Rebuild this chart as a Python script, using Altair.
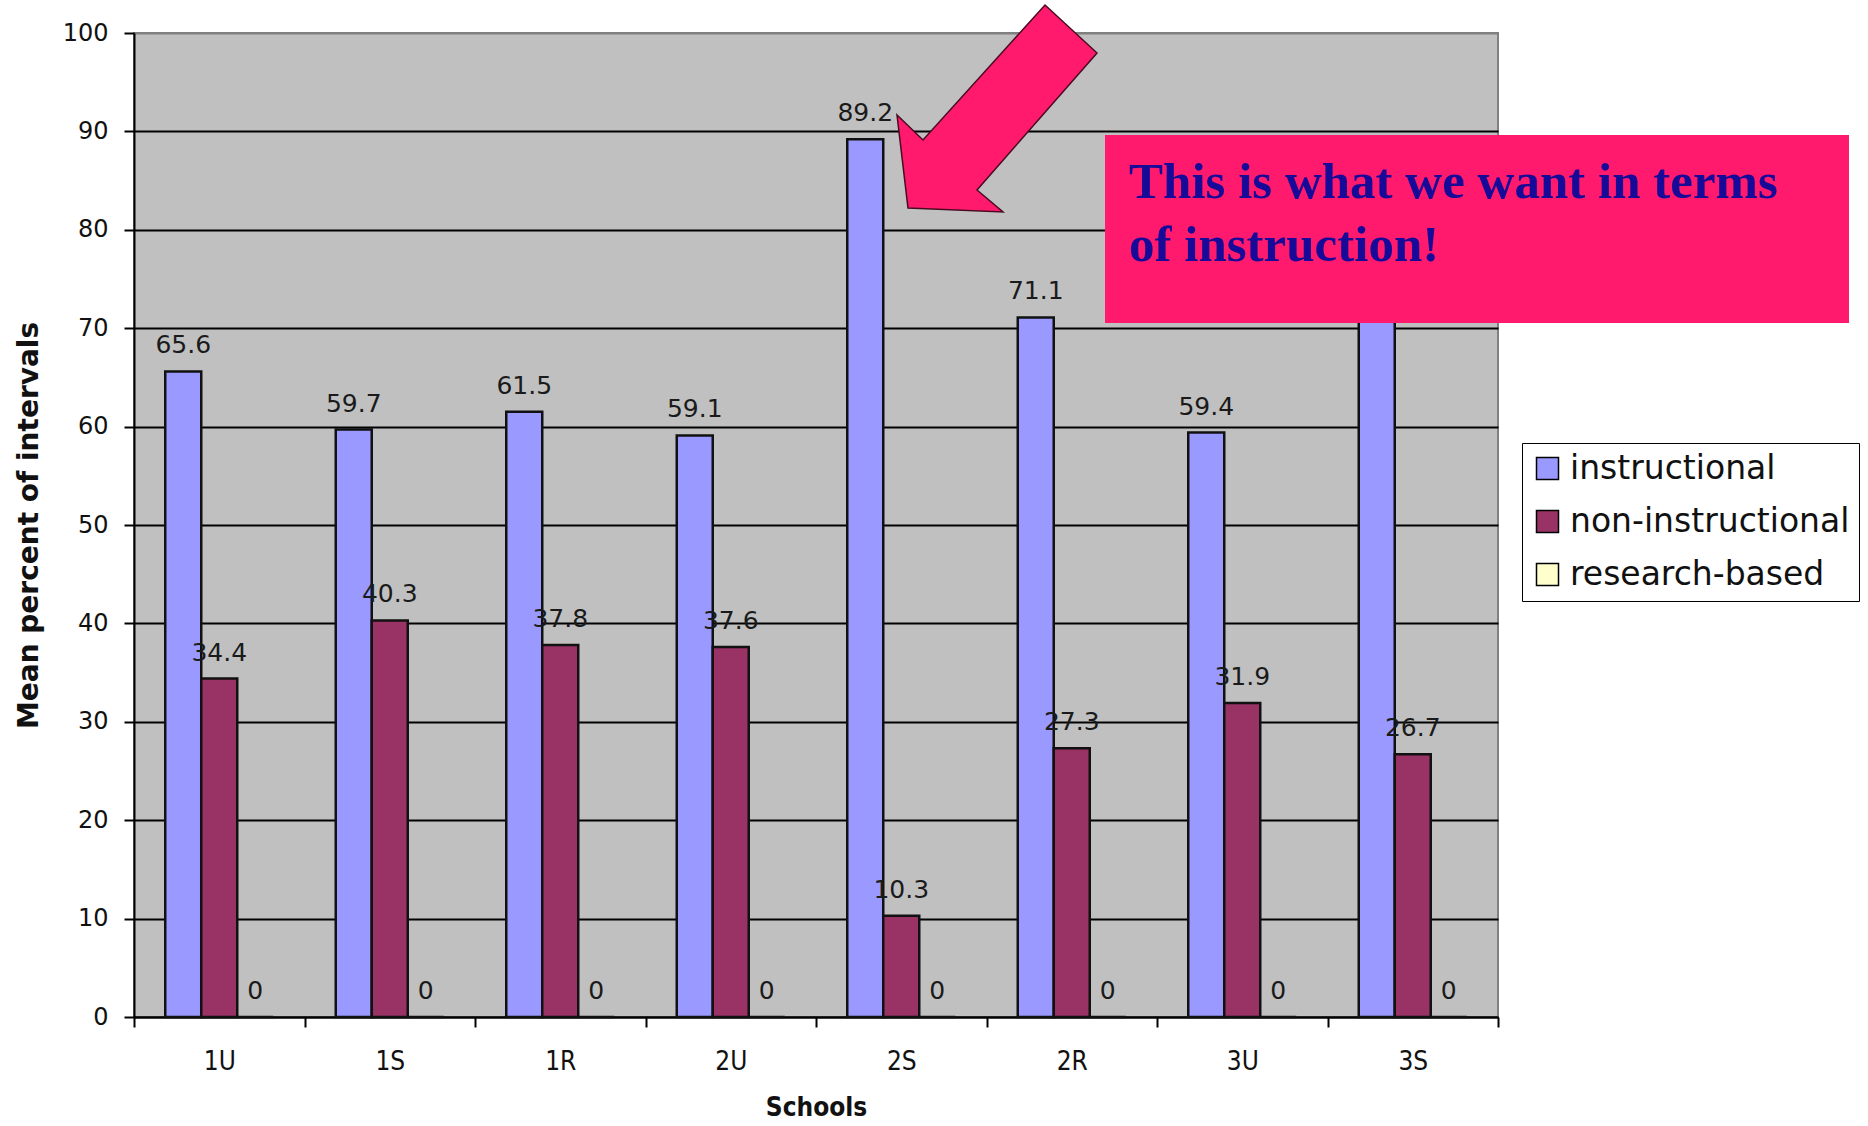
import altair as alt
import pandas as pd

# ---------------- data ----------------
schools = ["1U", "1S", "1R", "2U", "2S", "2R", "3U", "3S"]
series = ["instructional", "non-instructional", "research-based"]
instructional = [65.6, 59.7, 61.5, 59.1, 89.2, 71.1, 59.4, 73.3]
non_instructional = [34.4, 40.3, 37.8, 37.6, 10.3, 27.3, 31.9, 26.7]
research_based = [0, 0, 0, 0, 0, 0, 0, 0]
y_ticks = [0, 10, 20, 30, 40, 50, 60, 70, 80, 90, 100]
colors = ["#9999ff", "#993366", "#ffffcc"]
note_line1 = "This is what we want in terms"
note_line2 = "of instruction!"

rows = []
for s, vals in zip(series, [instructional, non_instructional, research_based]):
    for sc, v in zip(schools, vals):
        rows.append({"school": sc, "series": s, "value": v, "label": f"{v:g}"})
df = pd.DataFrame(rows)
one = pd.DataFrame({"k": [0]})

# ---------------- layout constants (pixels) ----------------
PLOT_W, PLOT_H = 1364, 984
PAD = {"left": 134, "top": 33, "right": 370, "bottom": 109}
PINK = "#ff1a6e"
ARROW_PATH = ("M 0.4638 -1 L 0.9662 -0.5362 L -0.1932 0.7874 L 0.058 1 "
              "L -0.8599 0.9614 L -0.9662 0.0628 L -0.715 0.3043 Z")

narrow = "Liberation Sans Narrow, DejaVu Sans Condensed, DejaVu Sans"

x = alt.X(
    "school:N", sort=schools, title="Schools",
    scale=alt.Scale(paddingInner=0, paddingOuter=0),
    axis=alt.Axis(
        tickBand="extent", tickSize=10, tickWidth=2, tickColor="black",
        domainColor="black", domainWidth=2, labelAngle=0,
        labelFont=narrow, labelFontSize=26, labelPadding=21, labelColor="#111111",
        titleFont=narrow, titleFontSize=26, titleFontWeight="bold", titleColor="#111111",
        titleX=682, titleY=90, titleAlign="center", titleBaseline="middle", grid=False,
    ),
)
xo = alt.XOffset("series:N", sort=series,
                 scale=alt.Scale(paddingInner=0, paddingOuter=0.868))
y = alt.Y(
    "value:Q", scale=alt.Scale(domain=[0, 100], nice=False),
    title="Mean percent of intervals",
    axis=alt.Axis(
        values=y_ticks, tickSize=10, tickWidth=2, tickColor="black",
        domainColor="black", domainWidth=2, grid=True,
        gridColor={"condition": {"test": "datum.value === 100", "value": "#808080"},
                   "value": "#000000"},
        gridWidth=2,
        labelFont="DejaVu Sans", labelFontSize=24, labelPadding=16, labelColor="#111111",
        titleFont="DejaVu Sans", titleFontWeight="bold", titleFontSize=28,
        titleColor="#111111", titleAngle=270, titleX=-105, titleY=492,
        titleAlign="center", titleBaseline="middle",
    ),
)
color = alt.Color(
    "series:N", sort=series,
    scale=alt.Scale(domain=series, range=colors),
    legend=alt.Legend(
        title=None, orient="none", legendX=1388, legendY=410,
        fillColor="white", strokeColor="black", padding=9,
        symbolType="square", symbolSize=484, symbolStrokeColor="black",
        symbolStrokeWidth=1.5, symbolOpacity=1,
        labelFont="DejaVu Sans", labelFontSize=33, labelColor="#111111",
        rowPadding=19, labelOffset=6, labelLimit=400,
    ),
)

bars = alt.Chart(df).mark_bar(stroke="#111111", strokeWidth=2.5, opacity=1).encode(
    x=x, xOffset=xo, y=y, color=color
)
labels = alt.Chart(df).mark_text(
    dy=-18, baseline="alphabetic", fontSize=25, font="DejaVu Sans", color="#1a1a1a"
).encode(x=x, xOffset=xo, y="value:Q", text="label:N")

box = alt.Chart(one).mark_rect(color=PINK, opacity=1).encode(
    x=alt.value(971), x2=alt.value(1715), y=alt.value(102), y2=alt.value(290)
)
note_style = dict(align="left", baseline="alphabetic", font="Liberation Serif",
                  fontWeight="bold", fontSize=51, color="#170a99")
note1 = alt.Chart(one).mark_text(text=note_line1, **note_style).encode(
    x=alt.value(995), y=alt.value(165))
note2 = alt.Chart(one).mark_text(text=note_line2, **note_style).encode(
    x=alt.value(995), y=alt.value(228))
arrow = alt.Chart(one).mark_point(
    shape=ARROW_PATH, size=42849, filled=True, fill=PINK, stroke="#4a0a20",
    strokeWidth=1.5, opacity=1,
).encode(x=alt.value(863), y=alt.value(75.5))

chart = alt.layer(bars, labels, box, note1, note2, arrow).properties(
    width=PLOT_W, height=PLOT_H,
    autosize=alt.AutoSizeParams(type="none"),
    padding=PAD,
    background="white",
).configure_view(fill="#c0c0c0", stroke="#808080", strokeWidth=2)

chart.save("out.html", embed_options={"renderer": "svg", "actions": False})
